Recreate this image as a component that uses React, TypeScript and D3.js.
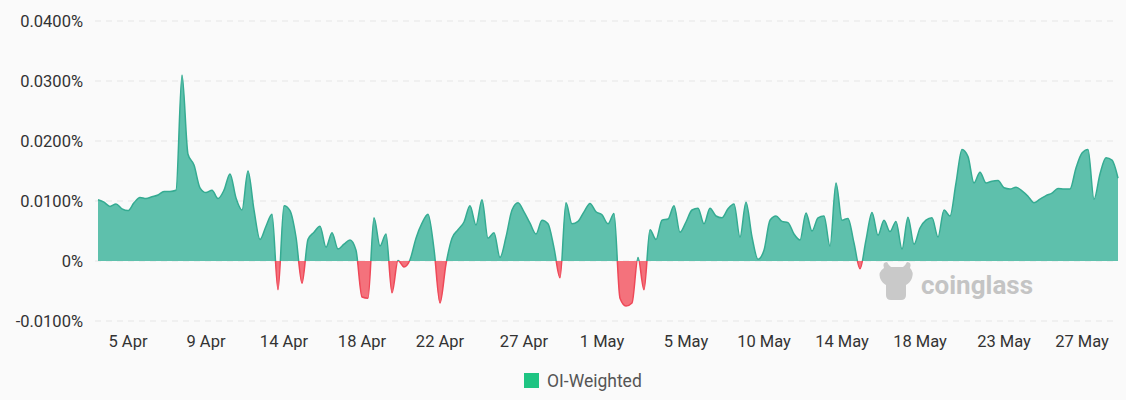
import * as d3 from "d3";

/* OI-weighted funding rate, in percent, one point per 8h settlement */
const rates = [
  0.0102, 0.0098, 0.0091, 0.0095, 0.0087, 0.0084, 0.0097, 0.0106, 0.0104, 0.0107,
  0.011, 0.0116, 0.0116, 0.0118, 0.031, 0.0178, 0.016, 0.0122, 0.0114, 0.0118,
  0.0104, 0.0118, 0.0145, 0.0105, 0.0085, 0.015, 0.0085, 0.0036, 0.0058, 0.0078,
  -0.0048, 0.0092, 0.0084, 0.004, -0.0037, 0.0036, 0.0048, 0.0058, 0.0023, 0.0047,
  0.002, 0.0028, 0.0035, 0.0018, -0.006, -0.0062, 0.0072, 0.0025, 0.0045, -0.0053,
  0.0001, -0.001, 0.0002, 0.0038, 0.0063, 0.0078, 0.002, -0.007, -0.0005, 0.0038,
  0.0052, 0.0065, 0.0092, 0.006, 0.0102, 0.0038, 0.0047, 0.0006, 0.004, 0.0085,
  0.0097, 0.0082, 0.0063, 0.0045, 0.0068, 0.0062, 0.0022, -0.0028, 0.0097, 0.0062,
  0.0066, 0.0082, 0.0096, 0.0082, 0.0077, 0.0062, 0.0079, -0.0062, -0.0075, -0.007,
  0.0006, -0.0048, 0.0052, 0.0036, 0.0068, 0.007, 0.0092, 0.0048, 0.0065, 0.0085,
  0.0088, 0.0062, 0.0088, 0.0075, 0.0072, 0.0087, 0.0095, 0.004, 0.0098, 0.004,
  0.0003, 0.0018, 0.0068, 0.0075, 0.0066, 0.0064, 0.0045, 0.0035, 0.008, 0.005,
  0.0072, 0.0075, 0.0025, 0.013, 0.0068, 0.0071, 0.003, -0.0013, 0.0035, 0.0081,
  0.0043, 0.0068, 0.0049, 0.0066, 0.002, 0.0073, 0.0028, 0.0055, 0.0068, 0.0072,
  0.004, 0.0085, 0.0075, 0.013, 0.0186, 0.0174, 0.013, 0.0148, 0.013, 0.0133,
  0.0134, 0.0122, 0.012, 0.0123, 0.0117, 0.0108, 0.0097, 0.0103, 0.0109, 0.0113,
  0.0121, 0.012, 0.012, 0.0155, 0.018, 0.0186, 0.0103, 0.0145, 0.0172, 0.0168,
  0.0138,
];

const xTickLabels = [
  "5 Apr", "9 Apr", "14 Apr", "18 Apr", "22 Apr", "27 Apr", "1 May",
  "5 May", "10 May", "14 May", "18 May", "23 May", "27 May",
];
const xTickIndex = [5, 18, 31, 44, 57, 71, 84, 98, 111, 124, 137, 151, 164];
const yTicks = [-0.01, 0, 0.01, 0.02, 0.03, 0.04];

const W = 1126;
const H = 400;
const M = { left: 98, right: 8, top: 21, bottom: 79 };

const UP_FILL = "#5ec0ac";
const UP_LINE = "#35ab92";
const DOWN_FILL = "#f4727c";
const DOWN_LINE = "#ee4858";
const FONT = "Roboto, 'Noto Sans', sans-serif";
const FS = 16.5;

export default function App() {
  const x = d3
    .scaleLinear()
    .domain([0, rates.length - 1])
    .range([M.left, W - M.right]);
  const y = d3
    .scaleLinear()
    .domain([-0.01, 0.04])
    .range([H - M.bottom, M.top]);
  const y0 = y(0);

  const area = d3
    .area<number>()
    .x((_, i) => x(i))
    .y0(y0)
    .y1((d) => y(d))
    .curve(d3.curveMonotoneX);
  const line = d3
    .line<number>()
    .x((_, i) => x(i))
    .y((d) => y(d))
    .curve(d3.curveMonotoneX);

  const areaD = area(rates) ?? "";
  const lineD = line(rates) ?? "";

  return (
    <div>
      <style>{`body{margin:0;background:#fafafa}`}</style>
      <svg width={W} height={H} style={{ display: "block", background: "#fafafa" }}>
        <defs>
          <clipPath id="clip-up">
            <rect x={0} y={0} width={W} height={y0} />
          </clipPath>
          <clipPath id="clip-down">
            <rect x={0} y={y0} width={W} height={H - y0} />
          </clipPath>
        </defs>

        {/* grid */}
        {yTicks.map((t) => (
          <line
            key={t}
            x1={M.left - 3}
            x2={W - M.right}
            y1={y(t)}
            y2={y(t)}
            stroke="#e6e6e6"
            strokeDasharray="6,5"
          />
        ))}

        {/* y labels */}
        {yTicks.map((t) => (
          <text
            key={"l" + t}
            x={83}
            y={y(t)}
            dy="0.35em"
            textAnchor="end"
            fontFamily={FONT}
            fontSize={FS}
            fill="#333"
          >
            {t === 0 ? "0%" : t.toFixed(4) + "%"}
          </text>
        ))}

        {/* watermark */}
        <g fill="#c9c9c9">
          <path d="M884,268 q-2,-6 3,-6 q2,4 4,5 h12 q2,-1 4,-5 q5,0 3,6 q4,4 2,10 q-2,5 -6,7 v10 q0,5 -5,5 h-10 q-5,0 -5,-5 v-10 q-4,-2 -6,-7 q-2,-6 4,-10z" />
          <text x={921} y={294} fontFamily={FONT} fontWeight={700} fontSize={26} fill="#c4c4c4">
            coinglass
          </text>
        </g>

        {/* series */}
        <g clipPath="url(#clip-up)">
          <path d={areaD} fill={UP_FILL} />
          <path d={lineD} fill="none" stroke={UP_LINE} strokeWidth={1.5} />
        </g>
        <g clipPath="url(#clip-down)">
          <path d={areaD} fill={DOWN_FILL} />
          <path d={lineD} fill="none" stroke={DOWN_LINE} strokeWidth={1.5} />
        </g>

        {/* x labels */}
        {xTickLabels.map((lab, i) => (
          <text
            key={lab}
            x={x(xTickIndex[i])}
            y={341}
            dy="0.35em"
            textAnchor="middle"
            fontFamily={FONT}
            fontSize={FS}
            fill="#333"
          >
            {lab}
          </text>
        ))}

        {/* legend */}
        <rect x={524} y={373} width={15} height={15} fill="#1ec482" />
        <text x={547} y={381} dy="0.35em" fontFamily={FONT} fontSize={17.5} fill="#555">
          OI-Weighted
        </text>
      </svg>
    </div>
  );
}
